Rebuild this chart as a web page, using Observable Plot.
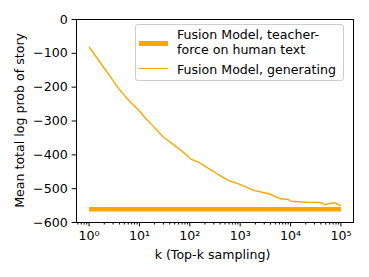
<!DOCTYPE html>
<html><head><meta charset="utf-8">
<script src="https://cdn.jsdelivr.net/npm/d3@7"></script>
<script src="https://cdn.jsdelivr.net/npm/@observablehq/plot@0.6"></script>
<style>
body{margin:0;background:#fff;}
#wrap{position:relative;width:369px;height:277px;font-family:"DejaVu Sans";font-size:12.6px;color:#000;}
#wrap svg{position:absolute;left:0;top:0;}
.lgbox{position:absolute;left:135px;top:24px;width:207px;height:55px;border:1px solid #cccccc;border-radius:3px;background:rgba(255,255,255,0.8);}
.sw{position:absolute;background:#ffa500;}
.lt{position:absolute;line-height:15px;white-space:nowrap;}
</style>
</head><body>
<div id="wrap"></div>
<script>
// Data
const genK = [1, 1.57, 2.7, 3.9, 6.2, 9.8, 13.2, 16.6, 30, 56, 89, 102, 151, 191, 347, 589, 741, 933, 1862, 3715, 6310, 9120, 10000, 21380, 38900, 48980, 61660, 77620, 95500, 100000];
const genLogProb = [-81, -122, -171, -205, -240, -269, -292, -307, -348, -378, -402, -412, -422, -432, -456, -476, -481, -486, -505, -515, -530, -532, -537, -540, -541, -547, -543, -542, -550, -551];
const teacherK = [1, 100000];
const teacherLogProb = [-561, -561];
const seriesNames = ["Fusion Model, teacher-force on human text", "Fusion Model, generating"];
const xMajorTicks = [1, 10, 100, 1000, 10000, 100000];
const xTickLabels = ["10⁰", "10¹", "10²", "10³", "10⁴", "10⁵"];
const xMinorTicks = [0.6, 0.7, 0.8, 0.9,
  2,3,4,5,6,7,8,9, 20,30,40,50,60,70,80,90, 200,300,400,500,600,700,800,900,
  2000,3000,4000,5000,6000,7000,8000,9000, 20000,30000,40000,50000,60000,70000,80000,90000];
const yTicks = [-600, -500, -400, -300, -200, -100, 0];
const xLabel = "k (Top-k sampling)";
const yLabel = "Mean total log prob of story";

const genData = genK.map((k, i) => ({k, v: genLogProb[i]}));
const teacherData = teacherK.map((k, i) => ({k, v: teacherLogProb[i]}));
const orange = "#ffa500";

const chart = Plot.plot({
  width: 369, height: 277,
  marginLeft: 76, marginRight: 16, marginTop: 19, marginBottom: 55,
  style: {fontFamily: "DejaVu Sans", fontSize: "12.6px", background: "white", color: "black", overflow: "visible"},
  x: {type: "log", domain: [Math.pow(10, -0.25), Math.pow(10, 5.25)]},
  y: {domain: [-600, 0]},
  marks: [
    Plot.line(teacherData, {x: "k", y: "v", stroke: orange, strokeWidth: 4.5, strokeLinecap: "butt"}),
    Plot.line(genData, {x: "k", y: "v", stroke: orange, strokeWidth: 1.4, strokeLinecap: "butt"}),
    Plot.axisX({ticks: xMajorTicks, tickSize: 4.4, tickPadding: 4.6,
      tickFormat: d => xTickLabels[xMajorTicks.indexOf(d)], label: null}),
    Plot.axisX({ticks: xMinorTicks, tickSize: 2.5, tickFormat: () => "", label: null}),
    Plot.axisY({ticks: yTicks, tickSize: 4.4, tickPadding: 4.4, label: null}),
    Plot.frame({stroke: "black", strokeWidth: 1})
  ]
});
const wrap = document.getElementById("wrap");
wrap.appendChild(chart);

// Axis titles
const svg = d3.select(chart.tagName.toLowerCase() === "svg" ? chart : chart.querySelector("svg"));
svg.append("text").attr("x", 212.5).attr("y", 259).attr("text-anchor", "middle")
  .attr("fill", "black").text(xLabel);
svg.append("text").attr("transform", "translate(23.5,120.4) rotate(-90)").attr("text-anchor", "middle")
  .attr("fill", "black").text(yLabel);

// Legend
const box = document.createElement("div"); box.className = "lgbox"; wrap.appendChild(box);
const sw1 = document.createElement("div"); sw1.className = "sw";
Object.assign(sw1.style, {left: "139px", top: "41px", width: "29px", height: "4.5px"}); wrap.appendChild(sw1);
const sw2 = document.createElement("div"); sw2.className = "sw";
Object.assign(sw2.style, {left: "139px", top: "67.6px", width: "29px", height: "1.4px"}); wrap.appendChild(sw2);
const t1 = document.createElement("div"); t1.className = "lt";
Object.assign(t1.style, {left: "177px", top: "27px"});
t1.innerHTML = "Fusion Model, teacher-<br>force on human text"; wrap.appendChild(t1);
const t2 = document.createElement("div"); t2.className = "lt";
Object.assign(t2.style, {left: "177px", top: "62px"});
t2.textContent = seriesNames[1]; wrap.appendChild(t2);
</script>
</body></html>
